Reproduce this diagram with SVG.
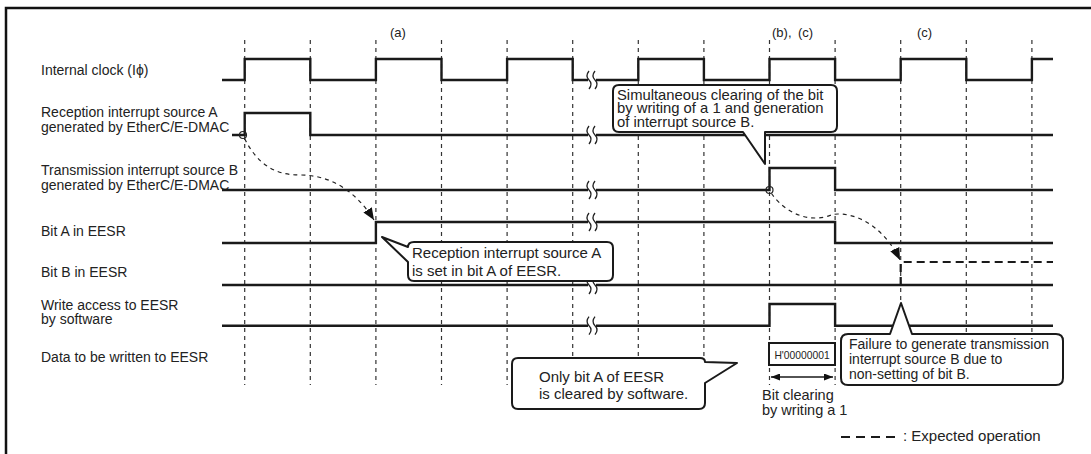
<svg xmlns="http://www.w3.org/2000/svg" xmlns:xlink="http://www.w3.org/1999/xlink" width="1091" height="454" viewBox="0 0 1091 454">
<style>
  text { font-family: "Liberation Sans", Arial, sans-serif; fill: #222; }
  .lbl { font-size: 14px; }
  .co { font-size: 15px; }
  .tag { font-size: 13px; }
  .grid { stroke: #333; stroke-width: 1.2; stroke-dasharray: 4 4; fill: none; }
  .sig { stroke: #1a1a1a; stroke-width: 2.4; fill: none; stroke-linejoin: miter; }
  .exp { stroke: #1a1a1a; stroke-width: 2.2; fill: none; stroke-dasharray: 8 5; }
  .callout { stroke: #1a1a1a; stroke-width: 2; fill: #fff; stroke-linejoin: round; }
  .curve { stroke: #222; stroke-width: 1.2; fill: none; stroke-dasharray: 4 4; }
  .dot { stroke: #222; stroke-width: 1.2; fill: none; }
  .brk { stroke: #222; stroke-width: 1.3; fill: none; }
</style>
<defs>
  <marker id="ah" viewBox="0 0 12 10" refX="12" refY="5" markerWidth="12" markerHeight="10" markerUnits="userSpaceOnUse" orient="auto">
    <path d="M0,0 L12,5 L0,10 Z" fill="#111"/>
  </marker>
  <marker id="ahs" viewBox="0 0 9 7" refX="9" refY="3.5" markerWidth="9" markerHeight="7" markerUnits="userSpaceOnUse" orient="auto-start-reverse">
    <path d="M0,0 L9,3.5 L0,7 Z" fill="#111"/>
  </marker>
  <g id="brk">
    <rect x="-4" y="-3" width="8" height="6" fill="#fff"/>
    <path class="brk" d="M-3,-9 Q-7,-4 -3,0 Q1,4 -3,9"/>
    <path class="brk" d="M3,-9 Q-1,-4 3,0 Q7,4 3,9"/>
  </g>
</defs>

<g id="frame">
  <path d="M6,454 V8 H1091" stroke="#111" stroke-width="2.5" fill="none"/>
</g>

<g id="grid">
  <path class="grid" d="M244.7,40 V385 M310.3,40 V385 M375.9,40 V385 M441.5,40 V385 M507.1,40 V385 M572.7,40 V385 M638.3,40 V385 M703.9,40 V385 M769.5,40 V385 M835.1,40 V385 M900.7,40 V385 M966.3,40 V385 M1031.9,40 V385"/>
</g>

<g id="tags">
  <text class="tag" x="390" y="37">(a)</text>
  <text class="tag" x="772" y="37">(b),</text>
  <text class="tag" x="798" y="37">(c)</text>
  <text class="tag" x="917" y="37">(c)</text>
</g>

<g id="labels">
  <text class="lbl" x="41" y="75">Internal clock (Iϕ)</text>
  <text class="lbl" x="41" y="117">Reception interrupt source A</text>
  <text class="lbl" x="41" y="132">generated by EtherC/E-DMAC</text>
  <text class="lbl" x="41" y="175">Transmission interrupt source B</text>
  <text class="lbl" x="41" y="190">generated by EtherC/E-DMAC</text>
  <text class="lbl" x="41" y="236">Bit A in EESR</text>
  <text class="lbl" x="41" y="277">Bit B in EESR</text>
  <text class="lbl" x="41" y="310">Write access to EESR</text>
  <text class="lbl" x="41" y="324">by software</text>
  <text class="lbl" x="41" y="362">Data to be written to EESR</text>
</g>

<g id="sig-clock">
  <path class="sig" d="M222,80 H244.7 V59 H310.3 V80 H375.9 V59 H441.5 V80 H507.1 V59 H572.7 V80 H638.3 V59 H703.9 V80 H769.5 V59 H835.1 V80 H900.7 V59 H966.3 V80 H1031.9 V59 H1053"/>
  <use xlink:href="#brk" x="592" y="80"/>
</g>
<g id="sig-rxA">
  <path class="sig" d="M232,135 H244.7 V113 H310.3 V135 H1053"/>
  <use xlink:href="#brk" x="592" y="135"/>
</g>
<g id="sig-txB">
  <path class="sig" d="M222,190 H769.5 V168 H835.1 V190 H1053"/>
  <use xlink:href="#brk" x="592" y="190"/>
</g>
<g id="sig-bitA">
  <path class="sig" d="M222,243 H375.9 V222 H835.1 V243 H1053"/>
  <use xlink:href="#brk" x="592" y="222"/>
</g>
<g id="sig-bitB">
  <path class="sig" d="M222,285 H1053"/>
  <path class="exp" d="M900.7,285 V262 H1053"/>
  <use xlink:href="#brk" x="592" y="285"/>
</g>
<g id="sig-write">
  <path class="sig" d="M222,325.7 H769.5 V304 H835.1 V325.7 H1053"/>
  <use xlink:href="#brk" x="592" y="325.7"/>
</g>

<g id="data">
  <rect x="769" y="343" width="66" height="22" fill="#fff" stroke="#1a1a1a" stroke-width="2"/>
  <text x="802" y="358.5" font-size="10.3" text-anchor="middle">H'00000001</text>
  <path d="M771,377 H833" stroke="#1a1a1a" stroke-width="1.5" fill="none" marker-start="url(#ahs)" marker-end="url(#ahs)"/>
  <text x="762" y="400" font-size="14.5">Bit clearing</text>
  <text x="762" y="415" font-size="14.5">by writing a 1</text>
</g>

<g id="connectors">
  <circle class="dot" cx="243" cy="135" r="3.5"/>
  <path class="curve" d="M244.5,138.5 C258,165 275,175 300,175 C330,175 355,190 374,220" marker-end="url(#ah)"/>
  <circle class="dot" cx="769.5" cy="190" r="3.5"/>
  <path class="curve" d="M771.5,193.5 C780,206 796,218 815,218 C828,218 830,214 838,214 C865,214 888,235 900,260" marker-end="url(#ah)"/>
</g>

<g id="callout-simul">
  <path class="callout" d="M619,85 H831 Q837,85 837,91 V126 Q837,132 831,132 H765 V164 L743,132 H619 Q613,132 613,126 V91 Q613,85 619,85 Z"/>
  <text x="617" y="99.5" font-size="14.8">Simultaneous clearing of the bit</text>
  <text x="617" y="113.3" font-size="14.8">by writing of a 1 and generation</text>
  <text x="617" y="127.1" font-size="14.8">of interrupt source B.</text>
</g>

<g id="callout-recv">
  <path class="callout" d="M414,242 H607 Q613,242 613,248 V275 Q613,281 607,281 H414 Q408,281 408,275 V262 L382,237 L408,247 Q408,242 414,242 Z"/>
  <text class="co" x="412" y="258.3">Reception interrupt source A</text>
  <text class="co" x="412" y="275.5">is set in bit A of EESR.</text>
</g>

<g id="callout-only">
  <path class="callout" d="M518,358 H700 Q705,358 705,362 L737,363 L705,383 V403 Q705,409 699,409 H518 Q512,409 512,403 V364 Q512,358 518,358 Z"/>
  <text class="co" x="539" y="382">Only bit A of EESR</text>
  <text class="co" x="539" y="399.3">is cleared by software.</text>
</g>

<g id="callout-fail">
  <path class="callout" d="M848,334 H890 L901,303 L912,334 H1056 Q1063,334 1063,341 V378 Q1063,385 1056,385 H848 Q841,385 841,378 V341 Q841,334 848,334 Z"/>
  <text x="849" y="349" font-size="14">Failure to generate transmission</text>
  <text x="849" y="364" font-size="14">interrupt source B due to</text>
  <text x="849" y="378.5" font-size="14">non-setting of bit B.</text>
</g>

<g id="legend">
  <path d="M841,437 H895" stroke="#1a1a1a" stroke-width="2.2" stroke-dasharray="9 6" fill="none"/>
  <text x="903" y="441" font-size="15">: Expected operation</text>
</g>
</svg>
